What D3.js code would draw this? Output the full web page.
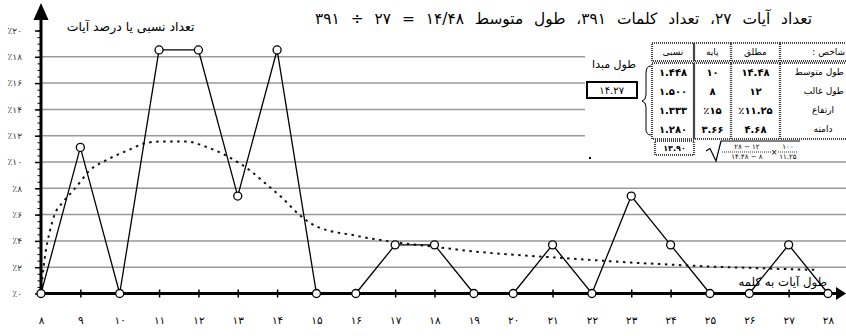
<!DOCTYPE html>
<html><head><meta charset="utf-8">
<script src="https://cdn.jsdelivr.net/npm/d3@7/dist/d3.min.js"></script>
<style>body{margin:0;background:#fff} svg{display:block}</style>
</head><body>
<svg id="c" width="846" height="336"></svg>
<script>
// ---------------- data ----------------
const lengths = [8,9,10,11,12,13,14,15,16,17,18,19,20,21,22,23,24,25,26,27,28];
const xTickLabels = ["۸","۹","۱۰","۱۱","۱۲","۱۳","۱۴","۱۵","۱۶","۱۷","۱۸","۱۹","۲۰","۲۱","۲۲","۲۳","۲۴","۲۵","۲۶","۲۷","۲۸"];
const percents = [0,11.11,0,18.52,18.52,7.41,18.52,0,0,3.70,3.70,0,0,3.70,0,7.41,3.70,0,0,3.70,0];
const curveLengths = [8,8.04,8.1,8.23,8.31,8.57,8.78,9,9.2,9.67,10.18,10.68,11,11.7,12.2,12.7,13.05,13.4,13.75,14.1,14.6,15,16,17,18,19,20,21,22,23,24,25,26,27,27.7];
const curvePercents = [0,1.3,2.8,4.8,5.7,7.0,7.7,8.5,9.25,10.15,10.85,11.45,11.55,11.55,11.15,10.5,9.9,9.15,8.25,7.35,5.9,5.1,4.4,3.9,3.55,3.2,2.95,2.75,2.55,2.35,2.2,2.05,1.95,1.85,1.8];
const yTicks = [0,2,4,6,8,10,12,14,16,18,20];
const yTickLabels = ["٪۰","٪۲","٪۴","٪۶","٪۸","٪۱۰","٪۱۲","٪۱۴","٪۱۶","٪۱۸","٪۲۰"];
const gridValues = [2,4,6,8,10,12,14,16,18];
const titleText = "تعداد آیات ۲۷،  تعداد کلمات ۳۹۱،  طول متوسط ۱۴/۴۸ = ۲۷ ÷ ۳۹۱";
const yTitle = "تعداد نسبی یا درصد آیات";
const xTitle = "طول آیات به کلمه";
const tableHeader = ["نسبی","پایه","مطلق","شاخص :"];
const tableRows = [
  ["۱.۴۴۸","۱۰","۱۴.۴۸","طول متوسط"],
  ["۱.۵۰۰","۸","۱۲","طول غالب"],
  ["۱.۳۳۳","٪۱۵","٪۱۱.۲۵","ارتفاع"],
  ["۱.۲۸۰","۳.۶۶","۴.۶۸","دامنه"]
];
const originLabel = "طول مبدا";
const originValue = "۱۴.۲۷";
const sqrtValue = "۱۳.۹۰";
const formulaParts = ["۲۸ − ۱۲","۱۴.۴۸ − ۸","۱۰۰","۱۱.۲۵"];

// ---------------- drawing ----------------
const FONT = "'DejaVu Sans','Noto Sans',sans-serif";
const svg = d3.select("#c");
const x = d3.scaleLinear().domain([8,28]).range([41,828]);
const y = d3.scaleLinear().domain([0,20]).range([293.5,30.5]);

function placeText(parent, str, left, right, cy, size, opts={}) {
  const t = parent.append("text").text(str)
    .attr("font-family", FONT).attr("font-size", size)
    .attr("dominant-baseline","central").attr("y", cy).attr("x", 0)
    .attr("fill", opts.fill || "#000");
  if (opts.weight) t.attr("font-weight", opts.weight);
  if (opts.rtl) t.style("direction","rtl");
  let bb = t.node().getBBox();
  if (opts.fit) {
    let k = (right-left)/bb.width;
    k = Math.max(0.8, Math.min(opts.maxK || 1.3, k));
    t.attr("font-size", size*k);
    bb = t.node().getBBox();
  }
  if (opts.spread) {
    const spaces = (str.match(/ /g) || []).length;
    const extra = (right-left) - bb.width;
    if (spaces && extra > 0) { t.attr("word-spacing", extra/spaces); bb = t.node().getBBox(); }
  }
  if (opts.center) t.attr("x", (left+right)/2 - (bb.x + bb.width/2));
  else t.attr("x", right - (bb.x + bb.width));
  return t;
}

// gridlines
svg.append("g").selectAll("line").data(gridValues).join("line")
  .attr("x1", x(8)).attr("x2", 846)
  .attr("y1", d => y(d)).attr("y2", d => y(d))
  .attr("stroke", "#999").attr("stroke-width", 1.5);

// dotted fitted curve
const curveData = curveLengths.map((d,i) => [d, curvePercents[i]]);
svg.append("path").datum(curveData)
  .attr("d", d3.line().x(d => x(d[0])).y(d => y(d[1])).curve(d3.curveMonotoneX))
  .attr("fill","none").attr("stroke","#111").attr("stroke-width",2)
  .attr("stroke-dasharray","2.5,4.5");

// frequency polygon
const pts = lengths.map((d,i) => [d, percents[i]]);
svg.append("path").datum(pts)
  .attr("d", d3.line().x(d => x(d[0])).y(d => y(d[1])))
  .attr("fill","none").attr("stroke","#000").attr("stroke-width",1.3);

// y axis ticks (minor + major)
const minor = d3.range(0, 20.01, 0.5);
const gyMinor = svg.append("g").attr("transform",`translate(${x(8)-1},0)`)
  .call(d3.axisLeft(y).tickValues(minor).tickFormat("").tickSize(2.5));
gyMinor.select(".domain").remove();
gyMinor.selectAll(".tick line").attr("stroke","#000").attr("stroke-width",1);

const gy = svg.append("g").attr("transform",`translate(${x(8)},0)`)
  .call(d3.axisLeft(y).tickValues(yTicks).tickFormat((d,i) => yTickLabels[i]).tickSize(6).tickPadding(13));
gy.select(".domain").remove();
gy.selectAll(".tick line").attr("stroke","#000").attr("stroke-width",1.5);
gy.selectAll(".tick text").attr("font-family",FONT).attr("font-size",9).attr("fill","#333");

// x axis ticks and labels
const gx = svg.append("g").attr("transform",`translate(0,${y(0)})`)
  .call(d3.axisBottom(x).tickValues(lengths).tickFormat((d,i) => xTickLabels[i]).tickSize(4).tickPadding(19));
gx.select(".domain").remove();
gx.selectAll(".tick line").attr("y1",-4).attr("y2",4).attr("stroke","#000").attr("stroke-width",1.5);
gx.selectAll(".tick text").attr("font-family",FONT).attr("font-size",10.5).attr("fill","#000");

// axis lines and arrows
svg.append("line").attr("x1", x(8)-2).attr("x2", 838).attr("y1", y(0)).attr("y2", y(0))
  .attr("stroke","#000").attr("stroke-width",3);
svg.append("path").attr("d", `M836,${y(0)-6.5}L846,${y(0)}L836,${y(0)+6.5}Z`).attr("fill","#000");
svg.append("line").attr("x1", x(8)).attr("x2", x(8)).attr("y1", 298).attr("y2", 18)
  .attr("stroke","#000").attr("stroke-width",3);
svg.append("path").attr("d", `M${x(8)-7.5},20L${x(8)},3L${x(8)+7.5},20Z`).attr("fill","#000");

// markers
svg.append("g").selectAll("circle").data(pts).join("circle")
  .attr("cx", d => x(d[0])).attr("cy", d => y(d[1])).attr("r", 4)
  .attr("fill","#fff").attr("stroke","#000").attr("stroke-width",1.3);

// titles
placeText(svg, titleText, 303, 812, 19, 13.5, {rtl:true, fit:true, maxK:1.14, spread:true});
placeText(svg, yTitle, 67, 195, 26, 12, {rtl:true, fit:true, maxK:1.1, spread:true});
placeText(svg, xTitle, 738, 827, 282, 11, {rtl:true, fit:true});

// ---------- info table ----------
const tg = svg.append("g");
tg.append("rect").attr("x",585).attr("y",40).attr("width",261).attr("height",119).attr("fill","#fff");
tg.append("rect").attr("x",589).attr("y",157).attr("width",2).attr("height",2).attr("fill","#000");

placeText(tg, originLabel, 592, 636, 64, 10, {rtl:true, fit:true});
tg.append("rect").attr("x",587).attr("y",82).attr("width",50).attr("height",16)
  .attr("fill","#fff").attr("stroke","#000").attr("stroke-width",2);
placeText(tg, originValue, 587, 637, 90, 10, {center:true});

// brace
tg.append("path").attr("d","M651,66 Q646,66 646,73 L646,95 Q646,100 642,101 Q646,102 646,107 L646,129 Q646,135 651,135")
  .attr("fill","none").attr("stroke","#000").attr("stroke-width",1);

const colX = [652, 694, 731, 780, 862];
const rowY = [62.5, 81.5, 100.5, 119.5, 138.5];
const cellStroke = sel => sel.attr("fill","none").attr("stroke","#444").attr("stroke-width",2.2).attr("stroke-dasharray","1,1");
for (let c = 0; c < 4; c++) {
  cellStroke(tg.append("rect").attr("x",colX[c]).attr("y",43).attr("width",colX[c+1]-colX[c]).attr("height",18));
  cellStroke(tg.append("rect").attr("x",colX[c]).attr("y",63).attr("width",colX[c+1]-colX[c]).attr("height",76));
}
// header texts
tableHeader.forEach((h,c) => {
  if (c < 3) placeText(tg, h, colX[c], colX[c+1], 52, 9, {rtl:true, center:true});
  else placeText(tg, h, 800, 845, 52, 9, {rtl:true});
});
// body
tableRows.forEach((row,r) => {
  const cy = (rowY[r] + rowY[r+1]) / 2;
  row.forEach((v,c) => {
    if (c < 3) placeText(tg, v, colX[c], colX[c+1], cy, 10, {center:true, weight:"bold"});
    else if (r < 2) placeText(tg, v, 780, 844, cy, 9, {rtl:true});
    else placeText(tg, v, 800, 846, cy, 9, {rtl:true, center:true});
  });
});
// bottom row: value + square root formula
cellStroke(tg.append("rect").attr("x",655).attr("y",141).attr("width",39).attr("height",14));
placeText(tg, sqrtValue, 655, 694, 148, 8, {center:true, weight:"bold"});
tg.append("path").attr("d","M706,151 L710,148.5 L716,161 L721,141 L800,141")
  .attr("fill","none").attr("stroke","#000").attr("stroke-width",1.2);
placeText(tg, formulaParts[0], 722, 772, 146.5, 7, {center:true});
tg.append("line").attr("x1",722).attr("x2",771).attr("y1",152).attr("y2",152)
  .attr("stroke","#333").attr("stroke-width",1.2).attr("stroke-dasharray","1,1");
placeText(tg, formulaParts[1], 722, 772, 157, 7, {center:true});
placeText(tg, "×", 770, 778, 152, 8, {center:true});
placeText(tg, formulaParts[2], 778, 798, 146.5, 7, {center:true});
tg.append("line").attr("x1",778).attr("x2",798).attr("y1",152).attr("y2",152)
  .attr("stroke","#333").attr("stroke-width",1.2).attr("stroke-dasharray","1,1");
placeText(tg, formulaParts[3], 778, 798, 157, 7, {center:true});
</script>
</body></html>
